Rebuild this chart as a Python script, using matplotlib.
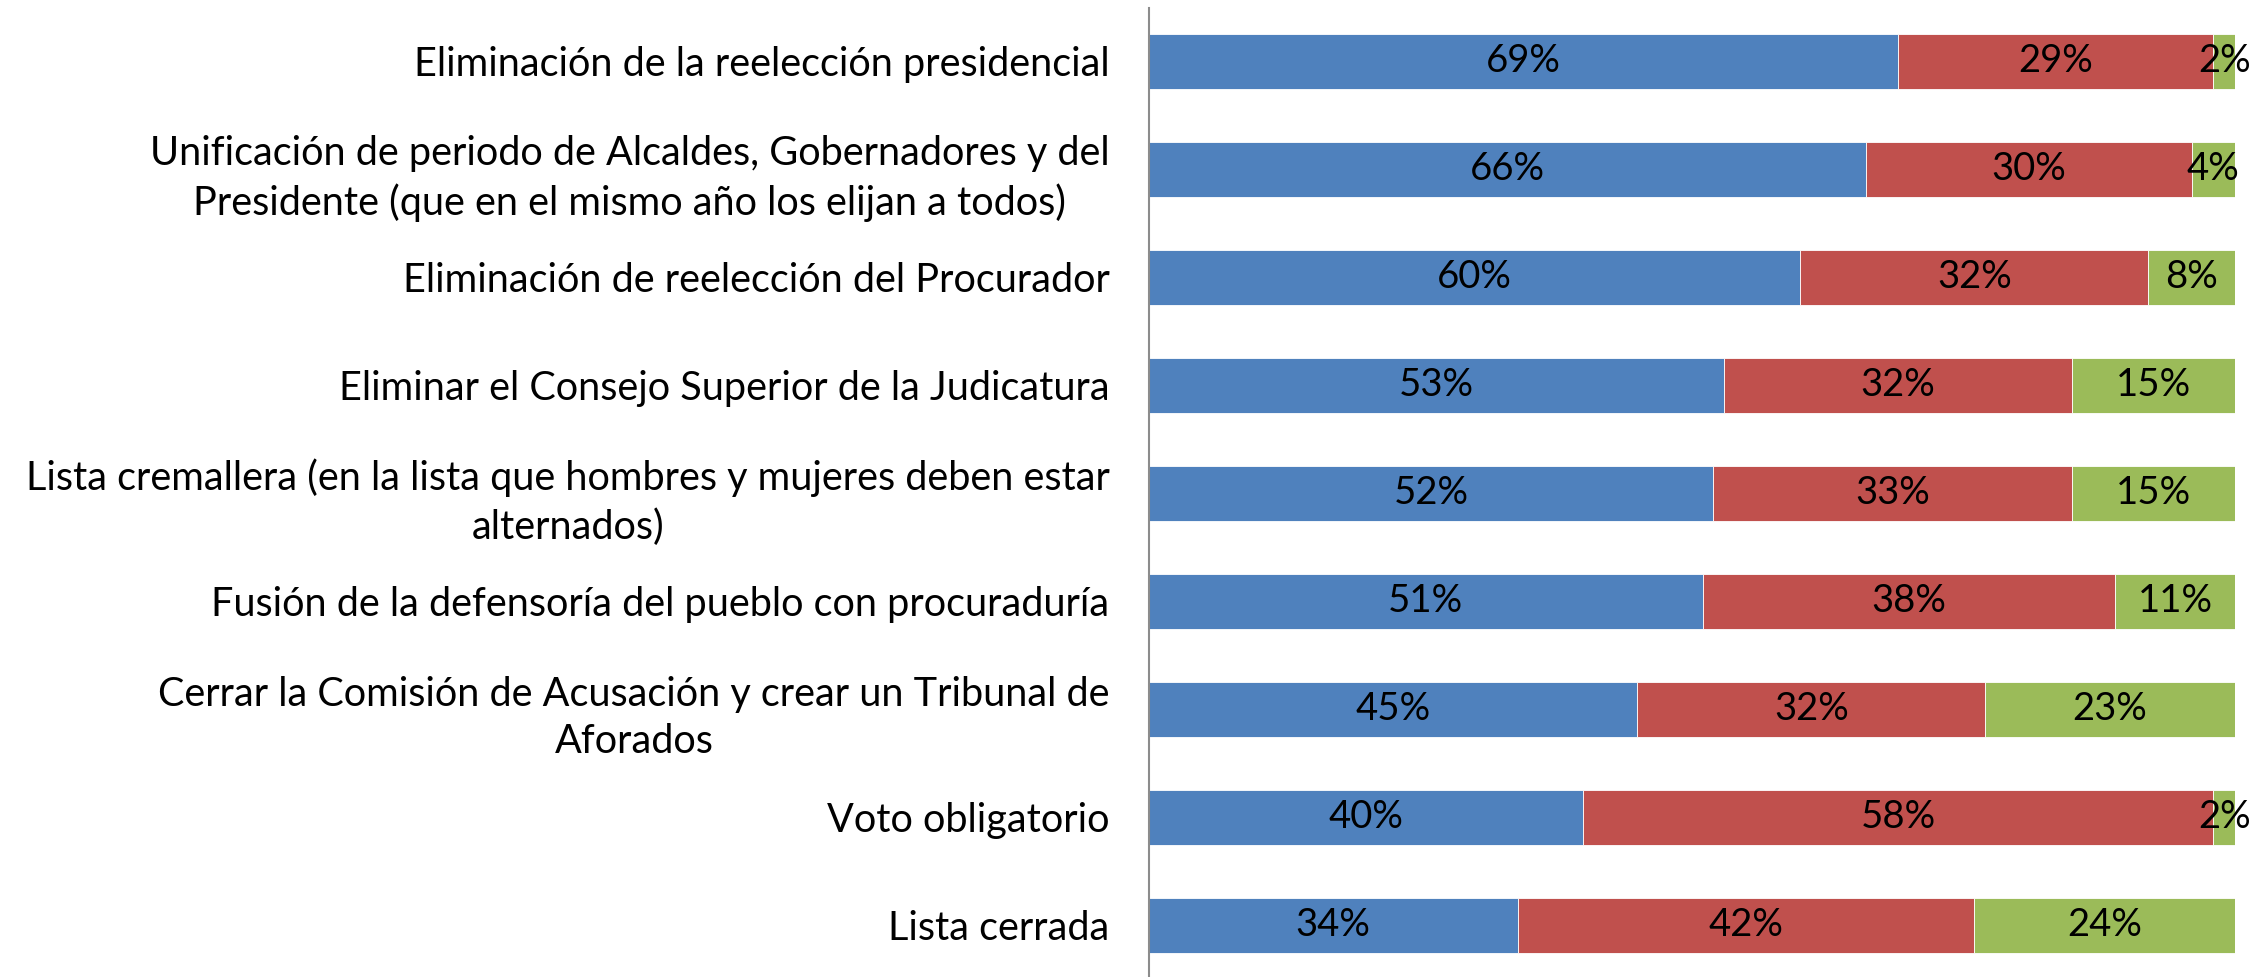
import matplotlib
matplotlib.use("Agg")
import matplotlib.pyplot as plt

# categorias (de arriba hacia abajo)
temas = [
    "Eliminación de la reelección presidencial",
    "Unificación de periodo de Alcaldes, Gobernadores y del\nPresidente (que en el mismo año los elijan a todos)",
    "Eliminación de reelección del Procurador",
    "Eliminar el Consejo Superior de la Judicatura",
    "Lista cremallera (en la lista que hombres y mujeres deben estar\nalternados)",
    "Fusión de la defensoría del pueblo con procuraduría",
    "Cerrar la Comisión de Acusación y crear un Tribunal de\nAforados",
    "Voto obligatorio",
    "Lista cerrada",
]
azul  = [69, 66, 60, 53, 52, 51, 45, 40, 34]
rojo  = [29, 30, 32, 32, 33, 38, 32, 58, 42]
verde = [2, 4, 8, 15, 15, 11, 23, 2, 24]

colores = ["#4F81BD", "#C0504D", "#9BBB59"]
plt.rcParams['font.family'] = ['Lato', 'DejaVu Sans']

fig = plt.figure(figsize=(22.56, 9.77), dpi=100)
ax = fig.add_axes([1148.5/2256, 0, (2235-1148.5)/2256, 1-8/977])

y = list(range(len(temas)))
left = [0]*len(temas)
for serie, c in zip([azul, rojo, verde], colores):
    bars = ax.barh(y, serie, left=left, height=0.51, color=c,
                   edgecolor='white', linewidth=0.6)
    for b, v, l in zip(bars, serie, left):
        ax.text(l + v/2, b.get_y() + b.get_height()/2, f"{v}%",
                ha='center', va='center', fontsize=27.5, color='black')
    left = [a + b for a, b in zip(left, serie)]

ax.set_xlim(0, 100)
ax.set_ylim(8.48, -0.495)
ax.set_yticks(y)
ax.set_yticklabels(temas, fontsize=28.5, multialignment='center', linespacing=1.35)
ax.tick_params(axis='y', length=0, pad=28)
ax.set_xticks([])
for s in ['top', 'right', 'bottom']:
    ax.spines[s].set_visible(False)
ax.spines['left'].set_color('#8c8c8c')
ax.spines['left'].set_linewidth(1.5)

fig.savefig("out.png", dpi=100)
